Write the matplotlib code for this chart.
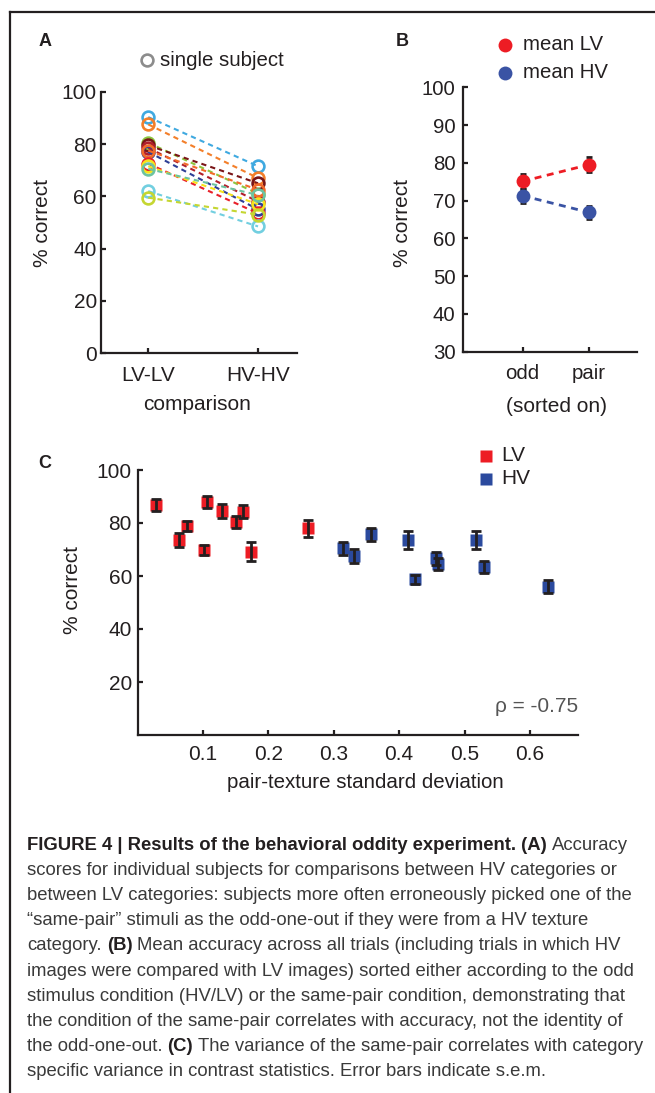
import matplotlib
matplotlib.use('Agg')
import matplotlib.pyplot as plt
from matplotlib.lines import Line2D
import numpy as np

plt.rcParams['font.family'] = ['Liberation Sans', 'DejaVu Sans']

W, H = 655, 1093
DPI = 100

# ---- data ----
# panel A: accuracy per subject
comparison = ['LV-LV', 'HV-HV']
subj_lv = [90.3, 87.5, 80.5, 79.5, 78.5, 77.0, 77.5, 72.5, 71.5, 70.5, 62.0, 59.5]
subj_hv = [71.5, 67.0, 61.0, 65.0, 58.0, 55.0, 62.5, 53.5, 57.0, 60.5, 48.5, 53.0]
subj_colors = ['#3fa9e0', '#f37f2a', '#8dc63f', '#7a1517', '#b11f2b', '#2e3f96',
               '#f26b2a', '#e8202a', '#f5e31b', '#6cc3a0', '#72cfe0', '#c5d631']

# panel B: mean accuracy sorted on odd / pair
sorted_on = ['odd', 'pair']
mean_lv = [75.1, 79.5]
sem_lv = [2.0, 2.0]
mean_hv = [71.3, 66.9]
sem_hv = [1.8, 1.8]

# panel C: accuracy vs pair-texture sd
lv_sd = [0.029, 0.063, 0.076, 0.102, 0.106, 0.129, 0.151, 0.162, 0.173, 0.260]
lv_acc = [86.8, 73.6, 79.0, 69.8, 87.9, 84.5, 80.5, 84.3, 69.1, 78.0]
lv_sem = [2.1, 2.6, 1.9, 2.0, 2.2, 2.6, 2.3, 2.4, 3.6, 3.1]
hv_sd = [0.314, 0.331, 0.357, 0.414, 0.424, 0.457, 0.460, 0.518, 0.530, 0.627]
hv_acc = [70.4, 67.5, 75.7, 73.6, 58.7, 66.7, 64.4, 73.6, 63.5, 56.0]
hv_sem = [2.5, 2.6, 2.5, 3.5, 1.8, 2.4, 2.3, 3.5, 2.2, 2.6]
rho = -0.75

RED = '#ed1c24'
BLUE_B = '#3a53a4'
BLUE_C = '#2b4a9e'
TXT = '#231f20'


def fx(px):
    return px / W


def fy(py):
    return 1 - py / H


def axes_px(left, top, right, bottom):
    return fig.add_axes([fx(left), fy(bottom), (right - left) / W, (bottom - top) / H])


def style_axes(ax, size, xpad, ypad):
    for s in ['top', 'right']:
        ax.spines[s].set_visible(False)
    for s in ['left', 'bottom']:
        ax.spines[s].set_linewidth(1.6)
        ax.spines[s].set_color('#231f20')
    ax.tick_params(direction='in', length=3.5, width=1.6, colors='#231f20', labelsize=size)
    ax.tick_params(axis='x', pad=xpad)
    ax.tick_params(axis='y', pad=ypad)


fig = plt.figure(figsize=(W / DPI, H / DPI), dpi=DPI)

# frame lines
fig.add_artist(Line2D([fx(10), 1], [fy(12), fy(12)], color='#231f20', lw=1.6, transform=fig.transFigure))
fig.add_artist(Line2D([fx(10), fx(10)], [fy(12), 0], color='#231f20', lw=1.6, transform=fig.transFigure))

# ---- panel A ----
axA = axes_px(101, 91.7, 297, 353.3)
for lv, hv, c in zip(subj_lv, subj_hv, subj_colors):
    axA.plot([1, 2], [lv, hv], ls=(0, (2.5, 2)), color=c, lw=1.5,
             marker='o', mfc='none', mec=c, ms=8.5, mew=1.9)
axA.set_xlim(0.57, 2.355)
axA.set_ylim(0, 100)
axA.set_xticks([1, 2])
axA.set_xticklabels(comparison)
axA.set_yticks([0, 20, 40, 60, 80, 100])
style_axes(axA, 15, 9, 3)
fig.text(fx(43), fy(223), '% correct', rotation=90, ha='center', va='center', fontsize=15, color=TXT)
fig.text(fx(197), fy(405), 'comparison', ha='center', va='center', fontsize=15, color=TXT)
fig.add_artist(Line2D([fx(147)], [fy(60)], marker='o', mfc='none', mec='#8c8c8c', ms=8.5, mew=1.9,
                      transform=fig.transFigure))
fig.text(fx(160), fy(60), 'single subject', ha='left', va='center', fontsize=14.7, color=TXT)
fig.text(fx(45), fy(42), 'A', ha='center', va='center', fontsize=13, fontweight='bold', color=TXT)

# ---- panel B ----
axB = axes_px(463, 87.3, 637, 351.7)
xb = np.arange(1, len(sorted_on) + 1)
axB.plot(xb, mean_lv, ls=(0, (2.5, 2)), color=RED, lw=2)
axB.plot(xb, mean_hv, ls=(0, (2.5, 2)), color=BLUE_B, lw=2)
axB.errorbar(xb, mean_lv, yerr=sem_lv, fmt='o', color=RED, ms=10, mec='none',
             ecolor='#231f20', elinewidth=2, capsize=2.5, capthick=2)
axB.errorbar(xb, mean_hv, yerr=sem_hv, fmt='o', color=BLUE_B, ms=10, mec='none',
             ecolor='#231f20', elinewidth=2, capsize=2.5, capthick=2)
axB.set_xlim(0.1, 2.73)
axB.set_ylim(30, 100)
axB.set_xticks(xb)
axB.set_xticklabels(sorted_on)
axB.set_yticks(np.arange(30, 101, 10))
style_axes(axB, 14.7, 8.5, 5.5)
fig.text(fx(402), fy(223), '% correct', rotation=90, ha='center', va='center', fontsize=15, color=TXT)
fig.text(fx(557), fy(407), '(sorted on)', ha='center', va='center', fontsize=15, color=TXT)
for yy, c, lab in [(45, RED, 'mean LV'), (73, BLUE_B, 'mean HV')]:
    fig.add_artist(Line2D([fx(505)], [fy(yy)], marker='o', color=c, mec='none', ms=10,
                          transform=fig.transFigure))
    fig.text(fx(523), fy(yy), lab, ha='left', va='center', fontsize=14.7, color=TXT)
fig.text(fx(402), fy(42), 'B', ha='center', va='center', fontsize=13, fontweight='bold', color=TXT)

# ---- panel C ----
axC = axes_px(137.5, 470, 578.3, 735)
axC.errorbar(lv_sd, lv_acc, yerr=lv_sem, fmt='s', color=RED, ms=8.5, mec='none',
             ecolor='#231f20', elinewidth=2, capsize=3.5, capthick=2, barsabove=True)
axC.errorbar(hv_sd, hv_acc, yerr=hv_sem, fmt='s', color=BLUE_C, ms=8.5, mec='none',
             ecolor='#231f20', elinewidth=2, capsize=3.5, capthick=2, barsabove=True)
axC.set_xlim(0, 0.674)
axC.set_ylim(0, 100)
axC.set_xticks([0.1, 0.2, 0.3, 0.4, 0.5, 0.6])
axC.set_yticks([20, 40, 60, 80, 100])
style_axes(axC, 15, 7, 4)
fig.text(fx(72), fy(590), '% correct', rotation=90, ha='center', va='center', fontsize=15, color=TXT)
fig.text(fx(365), fy(783), 'pair-texture standard deviation', ha='center', va='center', fontsize=14.8, color=TXT)
fig.text(fx(578), fy(707), f'ρ = {rho:.2f}', ha='right', va='center', fontsize=15, color='#555555')
for yy, c, lab in [(456, RED, 'LV'), (479, BLUE_C, 'HV')]:
    fig.add_artist(Line2D([fx(485.7)], [fy(yy)], marker='s', color=c, mec='none', ms=8.5,
                          transform=fig.transFigure))
    fig.text(fx(501.7), fy(yy), lab, ha='left', va='center', fontsize=15, color=TXT)
fig.text(fx(45), fy(464), 'C', ha='center', va='center', fontsize=13, fontweight='bold', color=TXT)

# ---- caption ----
caption = [
    [('FIGURE 4 | Results of the behavioral oddity experiment. (A)', True), ('Accuracy', False)],
    [('scores for individual subjects for comparisons between HV categories or', False)],
    [('between LV categories: subjects more often erroneously picked one of the', False)],
    [('\u201csame-pair\u201d stimuli as the odd-one-out if they were from a HV texture', False)],
    [('category.', False), ('(B)', True), ('Mean accuracy across all trials (including trials in which HV', False)],
    [('images were compared with LV images) sorted either according to the odd', False)],
    [('stimulus condition (HV/LV) or the same-pair condition, demonstrating that', False)],
    [('the condition of the same-pair correlates with accuracy, not the identity of', False)],
    [('the odd-one-out.', False), ('(C)', True), ('The variance of the same-pair correlates with category', False)],
    [('specific variance in contrast statistics. Error bars indicate s.e.m.', False)],
]
cap_family = ['Liberation Sans', 'DejaVu Sans']
cap_size = 13.3
renderer = fig.canvas.get_renderer()
t1 = fig.text(0, 0, 'x x', fontsize=cap_size, family=cap_family)
t2 = fig.text(0, 0, 'xx', fontsize=cap_size, family=cap_family)
space_w = t1.get_window_extent(renderer).width - t2.get_window_extent(renderer).width
t1.remove()
t2.remove()

for i, segs in enumerate(caption):
    y = 850 + 25.1 * i
    x = 27
    for j, (txt, bold) in enumerate(segs):
        if j > 0:
            x += space_w
        t = fig.text(fx(x), fy(y), txt, fontsize=cap_size, family=cap_family,
                     fontweight='bold' if bold else 'normal',
                     color=TXT if bold else '#3a3a3a', ha='left', va='baseline')
        x += t.get_window_extent(renderer).width

fig.savefig('out.png', dpi=DPI)
